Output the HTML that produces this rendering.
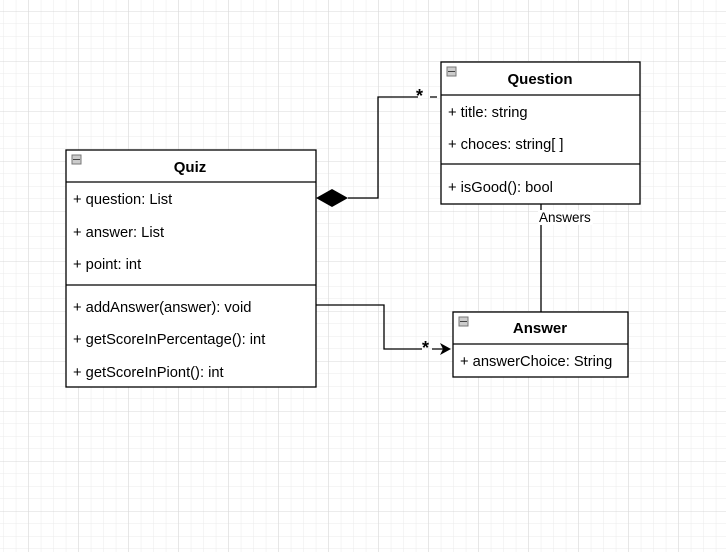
<!DOCTYPE html>
<html><head><style>
body{margin:0;width:726px;height:552px;overflow:hidden;background:#fff;font-family:"Liberation Sans",sans-serif;}
</style></head><body>
<svg width="726" height="552" xmlns="http://www.w3.org/2000/svg" font-family="Liberation Sans, sans-serif">
<defs>
<pattern id="minor" x="3.3" y="-1.5" width="12.5" height="12.5" patternUnits="userSpaceOnUse">
<path d="M0 0V12.5M0 0H12.5" stroke="#ebebeb" stroke-width="1" fill="none"/>
</pattern>
<pattern id="major" x="28.3" y="11" width="50" height="50" patternUnits="userSpaceOnUse">
<path d="M0 0V50M0 0H50" stroke="#d8d8d8" stroke-width="1" fill="none"/>
</pattern>
</defs>
<rect width="726" height="552" fill="url(#minor)"/>
<rect width="726" height="552" fill="url(#major)"/>

<!-- connectors -->
<path d="M348 198H378V97H418M430 97H437" stroke="#000" stroke-width="1.3" fill="none"/>
<polygon points="316,198 332,189 348,198 332,207" fill="#000"/>
<text x="416" y="102" font-size="18" font-weight="bold">*</text>
<path d="M541 204V312" stroke="#000" stroke-width="1.3"/>
<rect x="538" y="210" width="55" height="15" fill="#fff"/>
<text x="539" y="222" font-size="13.5">Answers</text>
<path d="M316 305H384V349H422M432 349H446" stroke="#000" stroke-width="1.3" fill="none"/>
<polygon points="451,349 440,343 443,349 440,355" fill="#000"/>
<text x="422" y="354" font-size="18" font-weight="bold">*</text>

<g font-size="14.7">
<!-- Quiz -->
<rect x="66" y="150" width="250" height="237" fill="#fff" stroke="#000" stroke-width="1.3"/>
<line x1="66" y1="182" x2="316" y2="182" stroke="#000" stroke-width="1.3"/>
<line x1="66" y1="285" x2="316" y2="285" stroke="#000" stroke-width="1.3"/>
<rect x="72" y="155" width="9" height="9" fill="#ccc" stroke="#777"/><line x1="73" y1="159.5" x2="80" y2="159.5" stroke="#444"/>
<text x="190" y="172" text-anchor="middle" font-weight="bold" font-size="15">Quiz</text>
<text x="73" y="204">+ question: List</text>
<text x="73" y="237">+ answer: List</text>
<text x="73" y="269">+ point: int</text>
<text x="73" y="312">+ addAnswer(answer): void</text>
<text x="73" y="344">+ getScoreInPercentage(): int</text>
<text x="73" y="377">+ getScoreInPiont(): int</text>

<!-- Question -->
<rect x="441" y="62" width="199" height="142" fill="#fff" stroke="#000" stroke-width="1.3"/>
<line x1="441" y1="95" x2="640" y2="95" stroke="#000" stroke-width="1.3"/>
<line x1="441" y1="164" x2="640" y2="164" stroke="#000" stroke-width="1.3"/>
<rect x="447" y="67" width="9" height="9" fill="#ccc" stroke="#777"/><line x1="448" y1="71.5" x2="455" y2="71.5" stroke="#444"/>
<text x="540" y="84" text-anchor="middle" font-weight="bold" font-size="15">Question</text>
<text x="448" y="117">+ title: string</text>
<text x="448" y="149">+ choces: string[ ]</text>
<text x="448" y="192">+ isGood(): bool</text>

<!-- Answer -->
<rect x="453" y="312" width="175" height="65" fill="#fff" stroke="#000" stroke-width="1.3"/>
<line x1="453" y1="344" x2="628" y2="344" stroke="#000" stroke-width="1.3"/>
<rect x="459" y="317" width="9" height="9" fill="#ccc" stroke="#777"/><line x1="460" y1="321.5" x2="467" y2="321.5" stroke="#444"/>
<text x="540" y="333" text-anchor="middle" font-weight="bold" font-size="15">Answer</text>
<text x="460" y="366">+ answerChoice: String</text>
</g>
</svg>
</body></html>
